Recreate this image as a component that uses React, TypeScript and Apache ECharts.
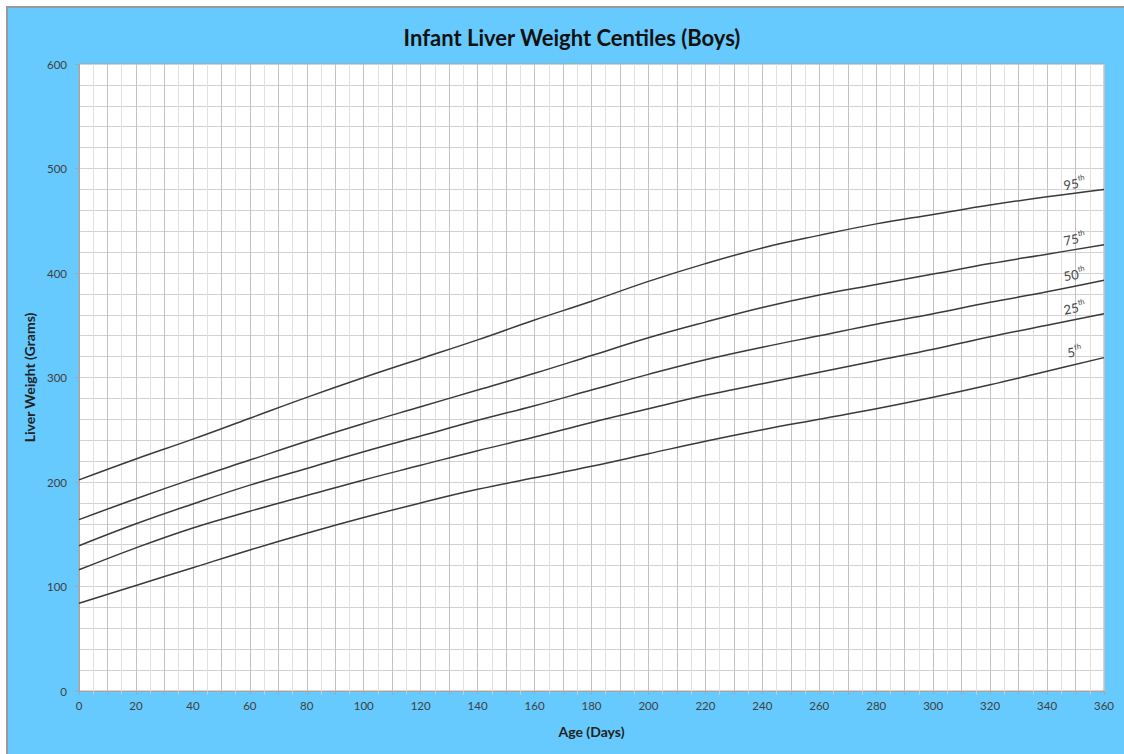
import React, { useEffect, useRef } from "react";
import * as echarts from "echarts";

const days = [0, 20, 40, 60, 80, 100, 120, 140, 160, 180, 200, 220, 240, 260, 280, 300, 320, 340, 360];
const p95 = [202, 222, 241, 261, 281, 300, 318, 336, 355, 373, 392, 409, 424, 436, 447, 456, 465, 473, 480];
const p75 = [164, 184, 203, 221, 239, 256, 272, 288, 304, 321, 338, 353, 367, 379, 389, 399, 409, 418, 427];
const p50 = [139, 160, 179, 197, 213, 229, 244, 259, 273, 288, 303, 317, 329, 340, 351, 361, 372, 382, 393];
const p25 = [116, 137, 156, 172, 187, 202, 216, 230, 243, 257, 270, 283, 294, 305, 316, 327, 339, 350, 361];
const p5 = [84, 101, 118, 135, 151, 166, 180, 193, 204, 215, 227, 239, 250, 260, 270, 281, 293, 306, 319];
const centiles = [
  { name: "95", values: p95 },
  { name: "75", values: p75 },
  { name: "50", values: p50 },
  { name: "25", values: p25 },
  { name: "5", values: p5 },
];
const title = "Infant Liver Weight Centiles (Boys)";
const xName = "Age (Days)";
const yName = "Liver Weight (Grams)";

export default function App() {
  const ref = useRef<HTMLDivElement>(null);
  useEffect(() => {
    if (!ref.current) return;
    const chart = echarts.init(ref.current, null, { renderer: "svg" });
    const font = "Lato, 'Open Sans', sans-serif";
    const series = centiles.map((c) => ({
      type: "line",
      name: c.name,
      smooth: 0.4,
      symbol: "circle",
      symbolSize: 1,
      showSymbol: true,
      itemStyle: { color: "rgba(0,0,0,0)" },
      lineStyle: { color: "#3a3a3a", width: 1.5 },
      emphasis: { disabled: true },
      data: days.map((d, i) => {
        const item: any = { value: [d, c.values[i]] };
        if (i === days.length - 1) {
          item.label = {
            show: true,
            position: "inside",
            offset: [-28, -12],
            rotate: 10,
            align: "center",
            verticalAlign: "middle",
            formatter: "{n|" + c.name + "}{s|th}",
            rich: {
              n: { fontSize: 13, fontFamily: font, color: "#444", verticalAlign: "bottom", lineHeight: 15 },
              s: { fontSize: 7.5, fontFamily: font, color: "#444", verticalAlign: "top", lineHeight: 15 },
            },
          };
        }
        return item;
      }),
    }));
    chart.setOption({
      animation: false,
      backgroundColor: "#ffffff",
      graphic: [
        {
          type: "rect",
          shape: { x: 7, y: 7, width: 1120, height: 750 },
          style: { fill: "#66CAFE", stroke: "#9a9a9a", lineWidth: 2 },
          z: -10,
          silent: true,
        },
      ],
      title: {
        text: title,
        left: 567,
        textAlign: "center",
        top: 21,
        textStyle: { fontFamily: font, fontSize: 22, fontWeight: "bold", color: "#111" },
      },
      grid: {
        left: 79,
        right: 20,
        top: 64,
        bottom: 63,
        show: true,
        backgroundColor: "#ffffff",
        borderColor: "#a6a6a6",
        borderWidth: 1,
      },
      xAxis: {
        type: "value",
        min: 0,
        max: 360,
        interval: 10,
        name: xName,
        nameLocation: "middle",
        nameGap: 33,
        nameTextStyle: { fontFamily: font, fontSize: 14, fontWeight: "bold", color: "#222" },
        axisLine: { show: true, lineStyle: { color: "#a6a6a6" } },
        axisTick: { show: true, length: 4, lineStyle: { color: "#a6a6a6" } },
        minorTick: { show: true, splitNumber: 2, length: 4, lineStyle: { color: "#c8c8c8" } },
        axisLabel: {
          fontFamily: font,
          fontSize: 11.5,
          color: "#404040",
          margin: 8,
          formatter: (v: number) => (v % 20 === 0 ? String(v) : ""),
        },
        splitLine: { show: true, lineStyle: { color: "#c2c2c2", width: 1 } },
        minorSplitLine: { show: true, lineStyle: { color: "#e0e0e0", width: 1 } },
      },
      yAxis: {
        type: "value",
        min: 0,
        max: 600,
        interval: 100,
        name: yName,
        nameLocation: "middle",
        nameGap: 39,
        nameTextStyle: { fontFamily: font, fontSize: 14, fontWeight: "bold", color: "#222" },
        axisLine: { show: true, lineStyle: { color: "#a6a6a6" } },
        axisTick: { show: true, length: 4, lineStyle: { color: "#a6a6a6" } },
        axisLabel: { fontFamily: font, fontSize: 11.5, color: "#404040", margin: 12 },
        splitLine: { show: true, lineStyle: { color: "#d2d2d2", width: 1 } },
        minorTick: { show: false, splitNumber: 5 },
        minorSplitLine: { show: true, lineStyle: { color: "#d2d2d2", width: 1 } },
      },
      series,
    });
    return () => chart.dispose();
  }, []);
  return (
    <div
      ref={ref}
      style={{ position: "absolute", left: 0, top: 0, width: 1124, height: 754 }}
    />
  );
}
